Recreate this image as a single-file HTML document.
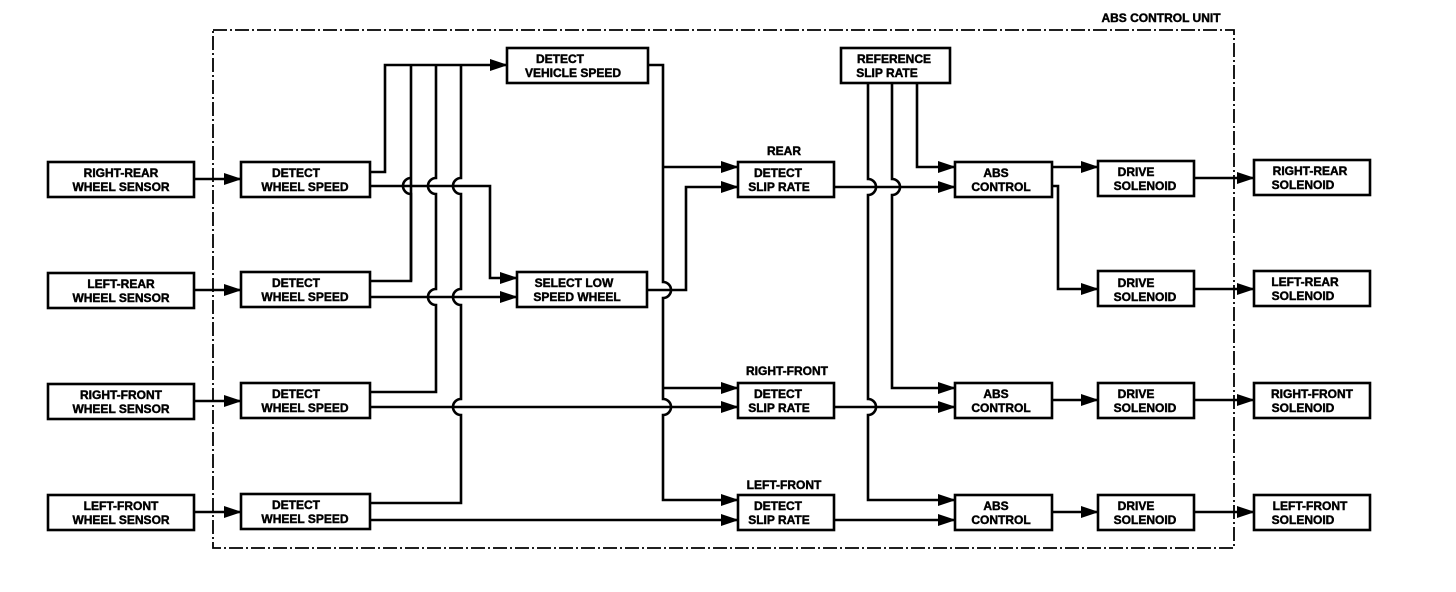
<!DOCTYPE html>
<html><head><meta charset="utf-8"><style>
html,body{margin:0;padding:0;background:#fff;}
svg{display:block}
text{font-family:"Liberation Sans",Arial,sans-serif;font-weight:bold;font-size:12px;fill:#000;stroke:#000;stroke-width:0.45;}
</style></head><body>
<svg width="1456" height="592" viewBox="0 0 1456 592" xmlns="http://www.w3.org/2000/svg">
<defs>
<marker id="a" markerWidth="18" markerHeight="14" refX="17" refY="7" orient="auto" markerUnits="userSpaceOnUse">
<path d="M0,1 L18,7 L0,13 Z" fill="#000"/></marker>
</defs>
<g fill="none" stroke="#000" stroke-width="2.6">
<rect x="213" y="30" width="1021" height="518" stroke-width="1.8" stroke-dasharray="14,3,2,3"/>
<rect x="48" y="162" width="146" height="35"/>
<rect x="48" y="273" width="146" height="35"/>
<rect x="48" y="384" width="146" height="35"/>
<rect x="48" y="495" width="146" height="35"/>
<rect x="241" y="162" width="129" height="35"/>
<rect x="241" y="272" width="129" height="35"/>
<rect x="241" y="383" width="129" height="35"/>
<rect x="241" y="494" width="129" height="35"/>
<rect x="507" y="48" width="141" height="35"/>
<rect x="517" y="272" width="130" height="35"/>
<rect x="738" y="162" width="96" height="35"/>
<rect x="738" y="383" width="96" height="35"/>
<rect x="738" y="495" width="96" height="35"/>
<rect x="841" y="48" width="109" height="35"/>
<rect x="955" y="162" width="97" height="35"/>
<rect x="955" y="383" width="97" height="35"/>
<rect x="955" y="495" width="97" height="35"/>
<rect x="1098" y="161" width="96" height="35"/>
<rect x="1098" y="271" width="96" height="35"/>
<rect x="1098" y="383" width="96" height="35"/>
<rect x="1098" y="495" width="96" height="35"/>
<rect x="1254" y="160" width="116" height="35"/>
<rect x="1254" y="271" width="116" height="35"/>
<rect x="1254" y="383" width="116" height="35"/>
<rect x="1254" y="495" width="116" height="35"/>

<path d="M194,179 H241" marker-end="url(#a)"/>
<path d="M194,290 H241" marker-end="url(#a)"/>
<path d="M194,401 H241" marker-end="url(#a)"/>
<path d="M194,512 H241" marker-end="url(#a)"/>

<path d="M370,172 H385 V65 H507" marker-end="url(#a)"/>
<path d="M370,281 H411 V65"/>
<path d="M370,392 H436 V305 A8,8 0 0 1 436,289 V194 A8,8 0 0 1 436,178 V65"/>
<path d="M370,503 H461 V415 A8,8 0 0 1 461,399 V305 A8,8 0 0 1 461,289 V194 A8,8 0 0 1 461,178 V65"/>
<path d="M411,281 V194 A8,8 0 0 1 411,178"/>

<path d="M370,186 H490 V278 H517" marker-end="url(#a)"/>
<path d="M370,297 H517" marker-end="url(#a)"/>
<path d="M370,407 H738" marker-end="url(#a)"/>
<path d="M370,520 H738" marker-end="url(#a)"/>

<path d="M648,65 H663 V282 A8,8 0 0 1 663,298 V399 A8,8 0 0 1 663,415 V500 H738" marker-end="url(#a)"/>
<path d="M663,167 H738" marker-end="url(#a)"/>
<path d="M663,388 H738" marker-end="url(#a)"/>
<path d="M647,290 H686 V187 H738" marker-end="url(#a)"/>

<path d="M917,83 V167 H955" marker-end="url(#a)"/>
<path d="M892,83 V179 A8,8 0 0 1 892,195 V388 H955" marker-end="url(#a)"/>
<path d="M868,83 V179 A8,8 0 0 1 868,195 V399 A8,8 0 0 1 868,415 V500 H955" marker-end="url(#a)"/>

<path d="M834,187 H955" marker-end="url(#a)"/>
<path d="M834,407 H955" marker-end="url(#a)"/>
<path d="M834,520 H955" marker-end="url(#a)"/>

<path d="M1052,167 H1098" marker-end="url(#a)"/>
<path d="M1052,186 H1058 V289 H1098" marker-end="url(#a)"/>
<path d="M1052,400 H1098" marker-end="url(#a)"/>
<path d="M1052,512 H1098" marker-end="url(#a)"/>

<path d="M1194,178 H1254" marker-end="url(#a)"/>
<path d="M1194,289 H1254" marker-end="url(#a)"/>
<path d="M1194,400 H1254" marker-end="url(#a)"/>
<path d="M1194,512 H1254" marker-end="url(#a)"/>
</g>

<g text-anchor="middle">
<text x="1161" y="22">ABS CONTROL UNIT</text>
<text x="121" y="177">RIGHT-REAR</text><text x="121" y="191">WHEEL SENSOR</text>
<text x="121" y="288">LEFT-REAR</text><text x="121" y="302">WHEEL SENSOR</text>
<text x="121" y="399">RIGHT-FRONT</text><text x="121" y="413">WHEEL SENSOR</text>
<text x="121" y="510">LEFT-FRONT</text><text x="121" y="524">WHEEL SENSOR</text>
<text x="296" y="177">DETECT</text><text x="305" y="191">WHEEL SPEED</text>
<text x="296" y="287">DETECT</text><text x="305" y="301">WHEEL SPEED</text>
<text x="296" y="398">DETECT</text><text x="305" y="412">WHEEL SPEED</text>
<text x="296" y="509">DETECT</text><text x="305" y="523">WHEEL SPEED</text>
<text x="560" y="63">DETECT</text><text x="573" y="77">VEHICLE SPEED</text>
<text x="574" y="287">SELECT LOW</text><text x="577" y="301">SPEED WHEEL</text>
<text x="784" y="155">REAR</text>
<text x="787" y="375">RIGHT-FRONT</text>
<text x="784" y="489">LEFT-FRONT</text>
<text x="778" y="177">DETECT</text><text x="779" y="191">SLIP RATE</text>
<text x="778" y="398">DETECT</text><text x="779" y="412">SLIP RATE</text>
<text x="778" y="510">DETECT</text><text x="779" y="524">SLIP RATE</text>
<text x="894" y="63">REFERENCE</text><text x="887" y="77">SLIP RATE</text>
<text x="996" y="177">ABS</text><text x="1001" y="191">CONTROL</text>
<text x="996" y="398">ABS</text><text x="1001" y="412">CONTROL</text>
<text x="996" y="510">ABS</text><text x="1001" y="524">CONTROL</text>
<text x="1136" y="176">DRIVE</text><text x="1145" y="190">SOLENOID</text>
<text x="1136" y="287">DRIVE</text><text x="1145" y="301">SOLENOID</text>
<text x="1136" y="398">DRIVE</text><text x="1145" y="412">SOLENOID</text>
<text x="1136" y="510">DRIVE</text><text x="1145" y="524">SOLENOID</text>
<text x="1310" y="175">RIGHT-REAR</text><text x="1303" y="189">SOLENOID</text>
<text x="1305" y="286">LEFT-REAR</text><text x="1303" y="300">SOLENOID</text>
<text x="1312" y="398">RIGHT-FRONT</text><text x="1303" y="412">SOLENOID</text>
<text x="1310" y="510">LEFT-FRONT</text><text x="1303" y="524">SOLENOID</text>
</g>
</svg>
</body></html>
